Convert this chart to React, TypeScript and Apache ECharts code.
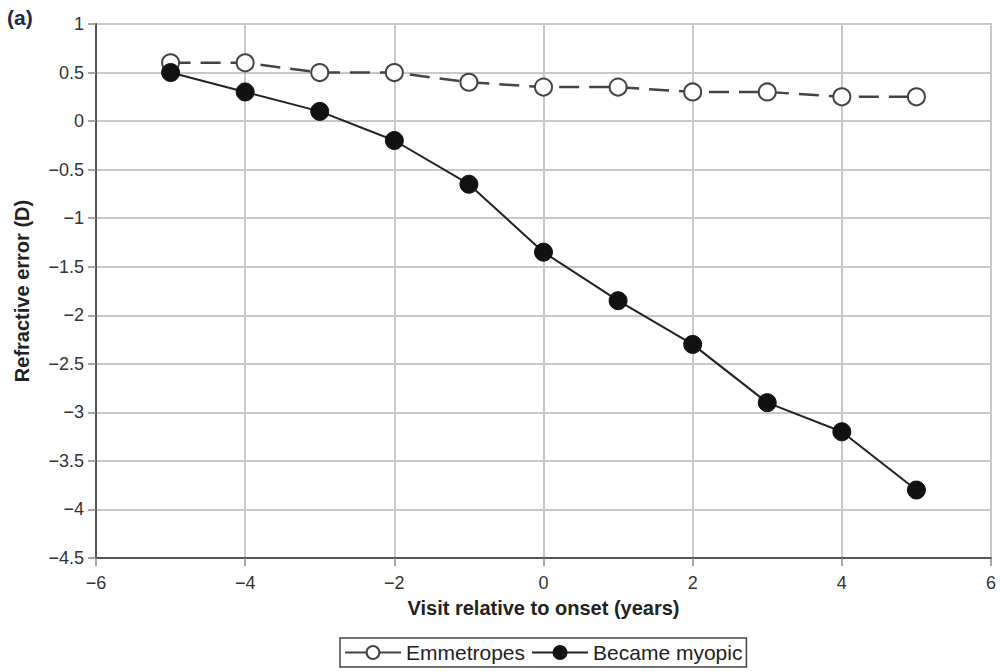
import React, { useEffect, useRef } from "react";
import * as echarts from "echarts";

const years = [-5, -4, -3, -2, -1, 0, 1, 2, 3, 4, 5];
const emmetropes = [0.6, 0.6, 0.5, 0.5, 0.4, 0.35, 0.35, 0.3, 0.3, 0.25, 0.25];
const becameMyopic = [0.5, 0.3, 0.1, -0.2, -0.65, -1.35, -1.85, -2.3, -2.9, -3.2, -3.8];

const FONT = "'Liberation Sans', Arial, sans-serif";
const minus = (v: number) => String(v).replace("-", "\u2212");

export default function App() {
  const ref = useRef<HTMLDivElement>(null);
  useEffect(() => {
    if (!ref.current) return;
    const chart = echarts.init(ref.current, undefined, { renderer: "svg" });
    const axisCommon = {
      axisLine: { show: true, onZero: false, lineStyle: { color: "#555", width: 2 } },
      axisTick: { show: true, length: 8, lineStyle: { color: "#888", width: 1.5 } },
      axisLabel: { color: "#333", fontSize: 18, fontFamily: FONT, formatter: minus },
      splitLine: { show: true, lineStyle: { color: "#c8c8c8", width: 2 } },
      nameTextStyle: { color: "#222", fontSize: 20, fontWeight: "bold", fontFamily: FONT },
    };
    chart.setOption({
      animation: false,
      backgroundColor: "#fff",
      graphic: [
        {
          type: "text",
          left: 7,
          top: 7,
          style: { text: "(a)", fill: "#1f2a4a", fontSize: 21, fontWeight: "bold", fontFamily: FONT },
        },
        {
          type: "rect",
          shape: { x: 96, y: 24, width: 895, height: 534 },
          style: { fill: "none", stroke: "#bbb", lineWidth: 2 },
          silent: true,
          z: 0,
        },
      ],
      grid: { left: 96, right: 9, top: 24, bottom: 114 },
      xAxis: {
        type: "value",
        min: -6,
        max: 6,
        interval: 2,
        name: "Visit relative to onset (years)",
        nameLocation: "middle",
        nameGap: 40,
        ...axisCommon,
        axisLabel: { ...axisCommon.axisLabel, margin: 16 },
      },
      yAxis: {
        type: "value",
        min: -4.5,
        max: 1,
        interval: 0.5,
        name: "Refractive error (D)",
        nameLocation: "middle",
        nameGap: 64,
        ...axisCommon,
        axisLabel: { ...axisCommon.axisLabel, margin: 12 },
      },
      legend: {
        bottom: 5,
        left: 340,
        itemWidth: 56,
        itemHeight: 16,
        itemGap: 6,
        padding: [4, 4, 4, 4],
        borderColor: "#444",
        borderWidth: 1.5,
        textStyle: { color: "#222", fontSize: 21, fontFamily: FONT },
        data: [
          { name: "Emmetropes", lineStyle: { type: "solid" } },
          { name: "Became myopic" },
        ],
      },
      series: [
        {
          name: "Emmetropes",
          type: "line",
          data: years.map((x, i) => [x, emmetropes[i]]),
          symbol: "circle",
          symbolSize: 17,
          itemStyle: { color: "#fff", borderColor: "#444", borderWidth: 2 },
          lineStyle: { color: "#444", width: 2.5, type: [20, 10] },
          z: 3,
        },
        {
          name: "Became myopic",
          type: "line",
          data: years.map((x, i) => [x, becameMyopic[i]]),
          symbol: "circle",
          symbolSize: 18,
          itemStyle: { color: "#111", borderColor: "#111", borderWidth: 1 },
          lineStyle: { color: "#222", width: 2 },
          z: 4,
        },
      ],
    });
    return () => chart.dispose();
  }, []);
  return (
    <div
      ref={ref}
      style={{ position: "fixed", left: 0, top: 0, width: 1000, height: 672 }}
    />
  );
}
